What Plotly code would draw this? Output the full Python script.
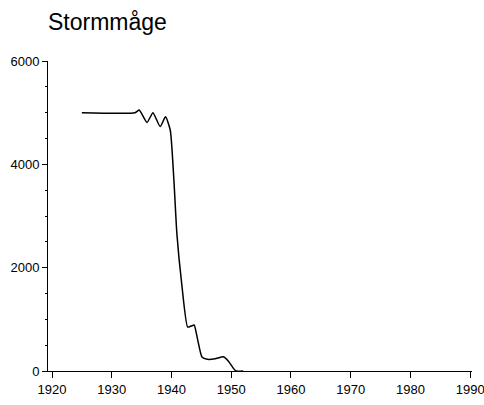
import plotly.graph_objects as go

years = [1925, 1933.9, 1934.6, 1935.9, 1936.9, 1938.1, 1939.0, 1939.8, 1940.4, 1940.9,
         1941.7, 1942.7, 1943.3, 1943.8, 1944.3, 1945.1, 1946.0, 1947.3, 1948.7, 1949.6,
         1950.3, 1950.8, 1952]
values = [5000, 5000, 5050, 4810, 5000, 4730, 4920, 4660, 3700, 2660,
          1700, 850, 870, 890, 650, 270, 226, 235, 277, 180,
          60, 0, 0]
x_ticks = [1920, 1930, 1940, 1950, 1960, 1970, 1980, 1990]
y_ticks = [0, 2000, 4000, 6000]

W, H = 484, 405

fig = go.Figure()
fig.add_trace(go.Scatter(x=years, y=values, mode="lines",
                         line=dict(color="black", width=1.5, shape="spline", smoothing=0.5),
                         hoverinfo="skip", showlegend=False))

fig.update_layout(
    width=W, height=H,
    paper_bgcolor="white", plot_bgcolor="white",
    margin=dict(l=48, r=12, t=61, b=34),
    font=dict(family="Liberation Sans, Arial, sans-serif", size=13, color="black"),
    title=dict(text="Stormmåge", x=48/W, xanchor="left", y=1-14/H, yanchor="top",
               font=dict(size=23, color="black")),
)
fig.update_xaxes(range=[1919.33, 1990.3], tickvals=x_ticks, ticktext=[str(t) for t in x_ticks],
                 automargin=False, ticklabeloverflow="allow",
                 showgrid=False, zeroline=False, showline=True, linecolor="black", linewidth=1,
                 ticks="outside", ticklen=6, tickcolor="black", tickwidth=1)
fig.update_yaxes(range=[0, 6000], tickvals=y_ticks, ticktext=[str(t) for t in y_ticks],
                 automargin=False, ticklabeloverflow="allow",
                 showgrid=False, zeroline=False, showline=True, linecolor="black", linewidth=1,
                 ticks="outside", ticklen=5, tickcolor="black", tickwidth=1,
                 minor=dict(dtick=500, ticks="outside", ticklen=2, tickcolor="black", showgrid=False))

fig.write_html("out.html", config={"displayModeBar": False},
               post_script="document.body.style.margin='0';document.body.style.overflow='hidden';")
